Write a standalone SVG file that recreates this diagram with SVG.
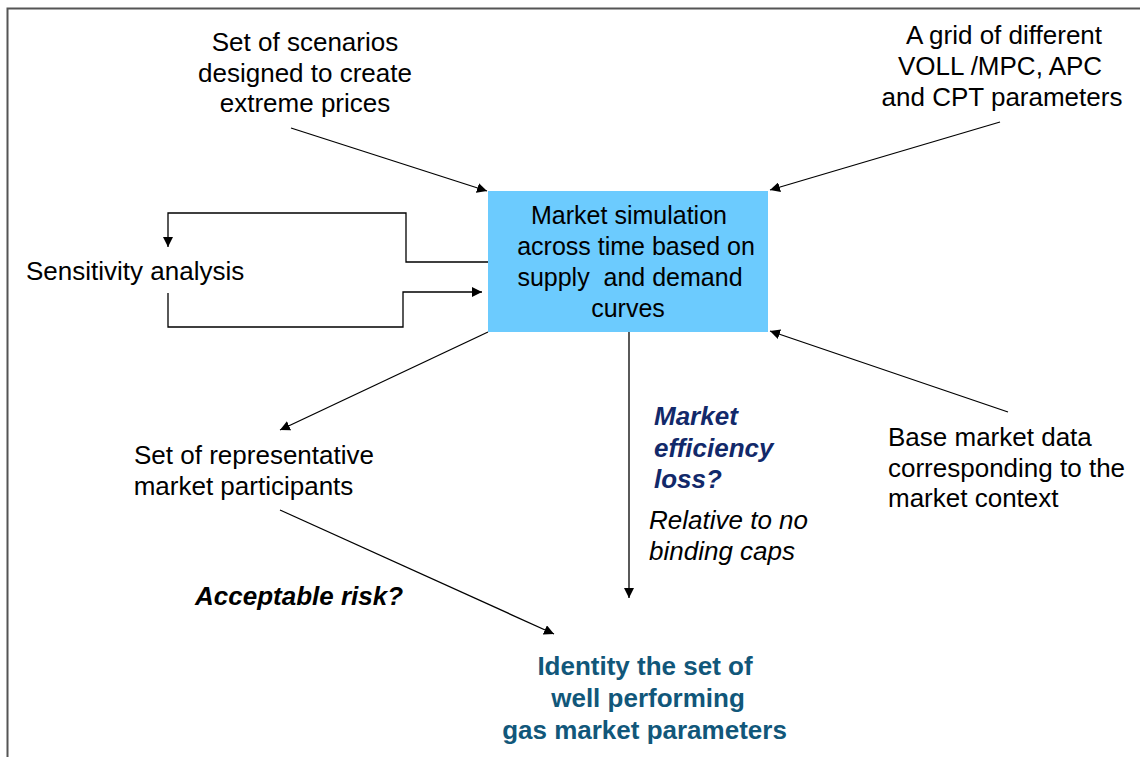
<svg xmlns="http://www.w3.org/2000/svg" width="1140" height="757" viewBox="0 0 1140 757">
<defs>
<marker id="ah" markerWidth="10" markerHeight="10" refX="10" refY="5" orient="auto" markerUnits="userSpaceOnUse" viewBox="0 0 10 10">
<path d="M0,0 L10,5 L0,10 z" fill="#000"/>
</marker>
<style>
text{font-family:"Liberation Sans",Arial,sans-serif;font-size:26px;fill:#000}
.c{text-anchor:middle}
.bx{font-size:25px}
.q{font-weight:bold;font-style:italic;fill:#12296a}
.it{font-style:italic}
.bi{font-weight:bold;font-style:italic}
.id{font-weight:bold;fill:#11577a;text-anchor:middle}
.ln{fill:none;stroke:#000;stroke-width:1.3}
</style>
</defs>
<rect width="1140" height="757" fill="#fff"/>
<path d="M7.5,757 V8.5 H1140" fill="none" stroke="#555" stroke-width="2"/>
<g id="connectors">
<line class="ln" x1="291" y1="128" x2="487" y2="191" marker-end="url(#ah)"/>
<line class="ln" x1="1000" y1="122" x2="770" y2="190" marker-end="url(#ah)"/>
<line class="ln" x1="1008" y1="412" x2="770" y2="331" marker-end="url(#ah)"/>
<line class="ln" x1="488" y1="332" x2="280" y2="430" marker-end="url(#ah)"/>
<line class="ln" x1="629" y1="332" x2="629" y2="598" marker-end="url(#ah)"/>
<line class="ln" x1="280" y1="510" x2="554" y2="634" marker-end="url(#ah)"/>
<polyline class="ln" points="488,262 406,262 406,213 168,213 168,247" marker-end="url(#ah)"/>
<polyline class="ln" points="168,293 168,327 403,327 403,292 482,292" marker-end="url(#ah)"/>
</g>
<g id="node-scenarios">
<text class="c" x="305" y="51">Set of scenarios</text>
<text class="c" x="305" y="82">designed to create</text>
<text class="c" x="305" y="112">extreme prices</text>
</g>
<g id="node-grid">
<text class="c" x="1004" y="44">A grid of different</text>
<text class="c" x="1000" y="75">VOLL /MPC, APC</text>
<text class="c" x="1002" y="106">and CPT parameters</text>
</g>
<g id="node-simulation">
<rect x="488" y="191" width="280" height="141" fill="#6ccbfe"/>
<text class="c bx" x="629" y="224">Market simulation</text>
<text class="c bx" x="636" y="255">across time based on</text>
<text class="c bx" x="630" y="286">supply&#160; and demand</text>
<text class="c bx" x="628" y="317">curves</text>
</g>
<g id="node-sensitivity">
<text x="26" y="280">Sensitivity analysis</text>
</g>
<g id="node-participants">
<text class="c" x="254" y="464">Set of representative</text>
<text class="c" x="243.5" y="495">market participants</text>
</g>
<g id="node-base">
<text x="888" y="446">Base market data</text>
<text x="888" y="477">corresponding to the</text>
<text x="888" y="507">market context</text>
</g>
<g id="label-efficiency">
<text class="q" x="654" y="425">Market</text>
<text class="q" x="654" y="457">efficiency</text>
<text class="q" x="654" y="488">loss?</text>
<text class="it" x="649" y="529">Relative to no</text>
<text class="it" x="649" y="560">binding caps</text>
</g>
<g id="label-risk">
<text class="bi" x="195" y="605">Acceptable risk?</text>
</g>
<g id="node-identity">
<text class="id" x="645" y="675">Identity the set of</text>
<text class="id" x="648" y="707">well performing</text>
<text class="id" x="644.5" y="739">gas market parameters</text>
</g>
</svg>
